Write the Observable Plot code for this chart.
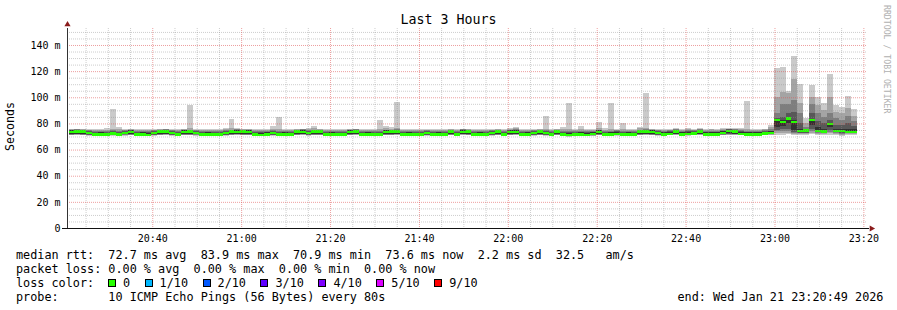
<!DOCTYPE html>
<html>
<head>
<meta charset="utf-8">
<script src="https://cdn.jsdelivr.net/npm/d3@7"></script>
<script src="https://cdn.jsdelivr.net/npm/@observablehq/plot@0.6"></script>
<style>
html, body { margin: 0; padding: 0; background: #fff; }
#wrap { position: relative; width: 897px; height: 310px; overflow: hidden; font-family: "DejaVu Sans Mono", monospace; color: #000; background: #fff; }
#chart { position: absolute; left: 0; top: 0; }
#title { position: absolute; left: 0; top: 11px; width: 897px; text-align: center; font-size: 13.3px; line-height: 18px; }
#ylabel { position: absolute; left: 3px; top: 151px; font-size: 11.6px; line-height: 14px; white-space: pre; transform-origin: 0 0; transform: rotate(-90deg); }
#wm { position: absolute; left: 892px; top: 5px; font-size: 8.2px; line-height: 10px; color: #b0b0b0; white-space: pre; transform-origin: 0 0; transform: rotate(90deg); }
.leg { position: absolute; font-size: 11.8px; line-height: 14px; white-space: pre; }
#lossrow { position: absolute; left: 108px; top: 275.5px; display: flex; align-items: center; font-size: 11.8px; line-height: 14px; white-space: pre; }
.sw { display: inline-block; width: 8px; height: 8px; box-sizing: border-box; border: 1px solid #000; margin-right: 7px; }
.it { margin-right: 14.5px; }
</style>
</head>
<body>
<div id="wrap">
  <div id="chart"></div>
  <div id="title"></div>
  <div id="ylabel"></div>
  <div id="wm"></div>
  <div class="leg" id="row1" style="left:16px; top:247.5px;"></div>
  <div class="leg" id="row2" style="left:16px; top:261.5px;"></div>
  <div class="leg" id="row3" style="left:16px; top:275.5px;"></div>
  <div id="lossrow"></div>
  <div class="leg" id="row4" style="left:16px; top:289.5px;"></div>
  <div class="leg" id="row4r" style="left:677.5px; top:289.5px;"></div>
</div>
<script>
// ---------- data ----------
const chartTitle = "Last 3 Hours";
const yAxisTitle = "Seconds";
const watermark = "RRDTOOL / TOBI OETIKER";
const periodStart = "2026-01-21T20:20:49";
const periodEnd = "2026-01-21T23:20:49";
const firstBinStart = "2026-01-21T20:21:09.500";
const stepSeconds = 80;
const yMax = 153;

const xTickLabels = ["20:40", "21:00", "21:20", "21:40", "22:00", "22:20", "22:40", "23:00", "23:20"];
const yTickValues = [0, 20, 40, 60, 80, 100, 120, 140];
const yTickLabels = ["0", "20 m", "40 m", "60 m", "80 m", "100 m", "120 m", "140 m"];

// median RTT per 80 s bin (ms)
const median = [
  73.6, 73.8, 73.7, 72.6, 71.5, 71.4, 71.6, 72.4, 71.5, 72.8,
  73.6, 71.5, 71.4, 71.3, 72.5, 73.7, 73.8, 72.6, 71.5, 73.6,
  73.7, 72.7, 71.4, 71.5, 71.6, 71.5, 72.6, 73.8, 73.6, 73.7,
  73.5, 71.5, 71.3, 71.5, 72.5, 71.5, 71.6, 71.4, 73.7, 73.6,
  72.6, 73.7, 73.8, 71.5, 71.4, 71.6, 71.5, 73.6, 73.7, 71.6,
  71.4, 71.5, 71.6, 73.5, 73.7, 73.8, 71.5, 71.6, 71.4, 71.5,
  72.6, 71.5, 71.4, 71.5, 73.7, 71.6, 73.6, 73.7, 71.5, 71.4,
  71.5, 72.6, 73.7, 71.4, 73.5, 73.6, 71.5, 71.6, 72.6, 73.7,
  72.5, 71.5, 73.7, 71.5, 70.9, 71.5, 71.6, 71.3, 71.8, 73.6,
  71.5, 71.6, 72.0, 71.5, 71.6, 71.4, 73.8, 73.7, 73.6, 72.6,
  71.5, 72.0, 73.8, 71.6, 71.8, 72.4, 73.9, 71.6, 71.5, 71.6,
  72.9, 74.1, 73.8, 72.0, 71.6, 71.5, 71.6, 72.2, 72.7,
  82.5, 81.0, 83.9, 81.2, 74.3, 74.6, 82.7, 74.4, 73.7, 79.6, 74.3, 74.0, 73.5, 73.6
];

// sorted ping RTTs per bin, p1 = fastest ... p10 = slowest (ms)
const p1 = [
  70.8, 70.9, 70.8, 70.5, 70.2, 70.3, 70.2, 70.5, 70.2, 70.6,
  70.8, 70.2, 70.3, 70.2, 70.5, 70.8, 70.9, 70.5, 70.2, 70.8,
  70.8, 70.6, 70.2, 70.3, 70.2, 70.2, 70.5, 70.8, 70.9, 70.8,
  70.8, 70.2, 70.2, 70.3, 70.5, 70.2, 70.3, 70.2, 70.8, 70.9,
  70.5, 70.8, 70.8, 70.2, 70.3, 70.2, 70.2, 70.8, 70.9, 70.2,
  70.3, 70.2, 70.2, 70.8, 70.8, 70.9, 70.2, 70.3, 70.2, 70.2,
  70.5, 70.2, 70.3, 70.2, 70.8, 70.2, 70.9, 70.8, 70.2, 70.3,
  70.2, 70.5, 70.8, 70.2, 70.8, 70.9, 70.2, 70.3, 70.5, 70.8,
  70.5, 70.2, 70.8, 70.2, 69.9, 70.2, 70.3, 70.2, 70.4, 70.8,
  70.2, 70.3, 70.6, 70.2, 70.3, 70.2, 70.8, 70.9, 70.8, 70.5,
  70.4, 70.8, 71.0, 70.6, 70.7, 70.9, 71.0, 70.6, 70.5, 70.6,
  70.9, 71.1, 71.0, 70.8, 70.5, 70.6, 70.5, 70.8, 70.9,
  71, 71, 72, 71, 71, 71, 72, 71, 71, 71, 71, 70.5, 71, 71
];
const p2 = [
  71.2, 71.3, 71.2, 70.9, 70.5, 70.6, 70.5, 70.9, 70.5, 71.0,
  71.2, 70.5, 70.6, 70.5, 70.9, 71.2, 71.3, 70.9, 70.5, 71.2,
  71.2, 71.0, 70.5, 70.6, 70.5, 70.5, 70.9, 71.2, 71.3, 71.2,
  71.2, 70.5, 70.5, 70.6, 70.9, 70.5, 70.6, 70.5, 71.2, 71.3,
  70.9, 71.2, 71.2, 70.5, 70.6, 70.5, 70.5, 71.2, 71.3, 70.5,
  70.6, 70.5, 70.5, 71.2, 71.2, 71.3, 70.5, 70.6, 70.5, 70.5,
  70.9, 70.5, 70.6, 70.5, 71.2, 70.5, 71.3, 71.2, 70.5, 70.6,
  70.5, 70.9, 71.2, 70.5, 71.2, 71.3, 70.5, 70.6, 70.9, 71.2,
  70.9, 70.5, 71.2, 70.5, 70.3, 70.5, 70.6, 70.5, 70.7, 71.2,
  70.5, 70.6, 71.0, 70.5, 70.6, 70.5, 71.2, 71.3, 71.2, 70.9,
  70.7, 71.1, 71.4, 70.9, 71.0, 71.2, 71.4, 70.9, 70.8, 70.9,
  71.2, 71.5, 71.4, 71.1, 70.8, 70.9, 70.8, 71.1, 71.3,
  73, 72.5, 73, 72, 72, 72, 73, 72, 72, 72.5, 72, 71.5, 72, 72
];
const p3 = [
  71.5, 71.6, 71.5, 71.2, 70.7, 70.8, 70.7, 71.2, 70.7, 71.3,
  71.5, 70.7, 70.8, 70.7, 71.2, 71.5, 71.6, 71.2, 70.7, 71.5,
  71.5, 71.3, 70.7, 70.8, 70.7, 70.7, 71.2, 71.5, 71.6, 71.5,
  71.5, 70.7, 70.7, 70.8, 71.2, 70.7, 70.8, 70.7, 71.5, 71.6,
  71.2, 71.5, 71.5, 70.7, 70.8, 70.7, 70.7, 71.5, 71.6, 70.7,
  70.8, 70.7, 70.7, 71.5, 71.5, 71.6, 70.7, 70.8, 70.7, 70.7,
  71.2, 70.7, 70.8, 70.7, 71.5, 70.7, 71.6, 71.5, 70.7, 70.8,
  70.7, 71.2, 71.5, 70.7, 71.5, 71.6, 70.7, 70.8, 71.2, 71.5,
  71.2, 70.7, 71.5, 70.7, 70.5, 70.7, 70.8, 70.6, 70.9, 71.5,
  70.7, 70.8, 71.3, 70.7, 70.8, 70.7, 71.5, 71.6, 71.5, 71.2,
  70.9, 71.3, 71.7, 71.1, 71.2, 71.4, 71.7, 71.1, 71.0, 71.1,
  71.5, 71.8, 71.7, 71.4, 71.0, 71.1, 71.0, 71.4, 71.6,
  74, 74, 74, 72.5, 72.5, 72.5, 74, 73, 72.5, 73.5, 72.5, 72, 72.5, 72.5
];
const p4 = [
  71.8, 71.9, 71.8, 71.5, 70.9, 71.0, 70.9, 71.5, 70.9, 71.6,
  71.8, 70.9, 71.0, 70.9, 71.5, 71.8, 71.9, 71.5, 70.9, 71.8,
  71.8, 71.6, 70.9, 71.0, 70.9, 70.9, 71.5, 71.8, 71.9, 71.8,
  71.8, 70.9, 70.9, 71.0, 71.5, 70.9, 71.0, 70.9, 71.8, 71.9,
  71.5, 71.8, 71.8, 70.9, 71.0, 70.9, 70.9, 71.8, 71.9, 70.9,
  71.0, 70.9, 70.9, 71.8, 71.8, 71.9, 70.9, 71.0, 70.9, 70.9,
  71.5, 70.9, 71.0, 70.9, 71.8, 70.9, 71.9, 71.8, 70.9, 71.0,
  70.9, 71.5, 71.8, 70.9, 71.8, 71.9, 70.9, 71.0, 71.5, 71.8,
  71.5, 70.9, 71.8, 70.9, 70.7, 70.9, 71.0, 70.8, 71.1, 71.8,
  70.9, 71.0, 71.6, 70.9, 71.0, 70.9, 71.8, 71.9, 71.8, 71.5,
  71.1, 71.5, 72.0, 71.3, 71.4, 71.6, 72.0, 71.3, 71.2, 71.3,
  71.8, 72.1, 72.0, 71.6, 71.2, 71.3, 71.2, 71.6, 71.9,
  75, 76, 76, 73.5, 73, 73, 76, 74, 73.5, 75, 73.5, 73, 73, 73
];
const p5 = [
  72.0, 72.1, 72.0, 71.7, 71.0, 71.1, 71.0, 71.7, 71.0, 71.8,
  72.0, 71.0, 71.1, 71.0, 71.7, 72.0, 72.1, 71.7, 71.0, 72.0,
  72.0, 71.8, 71.0, 71.1, 71.0, 71.0, 71.7, 72.0, 72.1, 72.0,
  72.0, 71.0, 71.0, 71.1, 71.7, 71.0, 71.1, 71.0, 72.0, 72.1,
  71.7, 72.0, 72.0, 71.0, 71.1, 71.0, 71.0, 72.0, 72.1, 71.0,
  71.1, 71.0, 71.0, 72.0, 72.0, 72.1, 71.0, 71.1, 71.0, 71.0,
  71.7, 71.0, 71.1, 71.0, 72.0, 71.0, 72.1, 72.0, 71.0, 71.1,
  71.0, 71.7, 72.0, 71.0, 72.0, 72.1, 71.0, 71.1, 71.7, 72.0,
  71.7, 71.0, 72.0, 71.0, 70.8, 71.0, 71.1, 70.9, 71.2, 72.0,
  71.0, 71.1, 71.8, 71.0, 71.1, 71.0, 72.0, 72.1, 72.0, 71.7,
  71.2, 71.7, 72.2, 71.4, 71.5, 71.8, 72.2, 71.4, 71.3, 71.4,
  72.0, 72.3, 72.2, 71.8, 71.3, 71.4, 71.3, 71.8, 72.1,
  77, 78, 80, 75, 74, 74, 79, 75, 74.5, 77, 74.5, 74, 74, 74
];
const p6 = [
  74.6, 74.7, 74.6, 73.6, 73.0, 73.1, 73.0, 73.6, 73.0, 73.7,
  74.6, 73.0, 73.1, 73.0, 73.6, 74.6, 74.7, 73.6, 73.0, 74.6,
  74.6, 73.7, 73.0, 73.1, 73.0, 73.0, 73.6, 74.6, 74.7, 74.6,
  74.6, 73.0, 73.0, 73.1, 73.6, 73.0, 73.1, 73.0, 74.6, 74.7,
  73.6, 74.6, 74.6, 73.0, 73.1, 73.0, 73.0, 74.6, 74.7, 73.0,
  73.1, 73.0, 73.0, 74.6, 74.6, 74.7, 73.0, 73.1, 73.0, 73.0,
  73.6, 73.0, 73.1, 73.0, 74.6, 73.0, 74.7, 74.6, 73.0, 73.1,
  73.0, 73.6, 74.6, 73.0, 74.6, 74.7, 73.0, 73.1, 73.6, 74.6,
  73.6, 73.0, 74.6, 73.0, 72.8, 73.0, 73.1, 72.9, 73.2, 74.6,
  73.0, 73.1, 73.7, 73.0, 73.1, 73.0, 74.6, 74.7, 74.6, 73.6,
  73.1, 73.6, 74.8, 73.2, 73.3, 73.7, 74.9, 73.2, 73.1, 73.2,
  73.9, 75.0, 74.8, 73.7, 73.2, 73.2, 73.1, 73.7, 73.9,
  83, 82.5, 85, 82.6, 76, 75, 83, 77, 76, 80, 76, 75.5, 76, 75.5
];
const p7 = [
  75.0, 75.1, 75.0, 74.2, 73.6, 73.7, 73.6, 74.2, 73.6, 74.3,
  75.0, 73.6, 73.7, 73.6, 74.2, 75.0, 75.1, 74.2, 73.6, 75.0,
  75.0, 74.3, 73.6, 73.7, 73.6, 73.6, 74.2, 75.0, 75.1, 75.0,
  75.0, 73.6, 73.6, 73.7, 74.2, 73.6, 73.7, 73.6, 75.0, 75.1,
  74.2, 75.0, 75.0, 73.6, 73.7, 73.6, 73.6, 75.0, 75.1, 73.6,
  73.7, 73.6, 73.6, 75.0, 75.0, 75.1, 73.6, 73.7, 73.6, 73.6,
  74.2, 73.6, 73.7, 73.6, 75.0, 73.6, 75.1, 75.0, 73.6, 73.7,
  73.6, 74.2, 75.0, 73.6, 75.0, 75.1, 73.6, 73.7, 74.2, 75.0,
  74.2, 73.6, 75.0, 73.6, 73.4, 73.6, 73.7, 73.5, 73.8, 75.0,
  73.6, 73.7, 74.3, 73.6, 73.7, 73.6, 75.0, 75.1, 75.0, 74.2,
  73.7, 74.2, 75.2, 73.8, 74.0, 74.3, 75.3, 73.8, 73.8, 73.8,
  74.5, 75.4, 75.2, 74.3, 73.8, 73.8, 73.7, 74.3, 74.5,
  84, 85, 88, 89, 80, 75.5, 88, 82, 80, 83, 79, 79, 80, 78
];
const p8 = [
  75.3, 75.4, 75.3, 74.7, 74.1, 74.2, 74.1, 74.7, 74.1, 74.8,
  75.3, 74.1, 74.2, 74.1, 74.7, 75.3, 75.4, 74.7, 74.1, 75.3,
  75.3, 74.8, 74.1, 74.2, 74.1, 74.1, 74.7, 75.3, 75.4, 75.3,
  75.3, 74.1, 74.1, 74.2, 74.7, 74.1, 74.2, 74.1, 75.3, 75.4,
  74.7, 75.3, 75.3, 74.1, 74.2, 74.1, 74.1, 75.3, 75.4, 74.1,
  74.2, 74.1, 74.1, 75.3, 75.3, 75.4, 74.1, 74.2, 74.1, 74.1,
  74.7, 74.1, 74.2, 74.1, 75.3, 74.1, 75.4, 75.3, 74.1, 74.2,
  74.1, 74.7, 75.3, 74.1, 75.3, 75.4, 74.1, 74.2, 74.7, 75.3,
  74.7, 74.1, 75.3, 74.1, 73.9, 74.1, 74.2, 74.0, 74.3, 75.3,
  74.1, 74.2, 74.8, 74.1, 74.2, 74.1, 75.3, 75.4, 75.3, 74.7,
  74.2, 74.7, 75.5, 74.4, 74.6, 74.8, 75.6, 74.4, 74.4, 74.4,
  75.0, 75.7, 75.5, 74.9, 74.4, 74.4, 74.3, 74.9, 75.5,
  88, 95, 95, 98, 88, 77, 95, 88, 85, 88, 84, 83, 86, 82
];
const p9 = [
  75.6, 75.7, 75.6, 75.2, 74.6, 75.0, 75.2, 76.0, 75.4, 75.3,
  75.6, 75.2, 74.7, 74.6, 75.2, 75.6, 75.7, 75.2, 74.6, 75.7,
  76.4, 75.3, 74.6, 74.7, 74.6, 74.6, 75.4, 76.4, 75.8, 75.6,
  75.6, 74.6, 74.6, 74.7, 76.0, 75.8, 74.7, 74.6, 75.6, 75.7,
  75.4, 76.2, 75.6, 74.6, 74.7, 74.6, 74.6, 75.6, 75.7, 74.6,
  74.7, 74.6, 75.8, 76.2, 76.0, 76.5, 74.9, 74.7, 74.6, 74.9,
  75.2, 74.9, 74.7, 74.6, 75.6, 74.6, 75.7, 75.6, 74.6, 74.7,
  74.6, 75.2, 75.6, 74.6, 75.8, 76.2, 74.6, 74.7, 75.2, 75.6,
  76.0, 74.6, 75.6, 75.6, 75.5, 74.6, 75.8, 75.0, 74.8, 76.5,
  75.2, 75.6, 75.3, 76.0, 74.7, 74.6, 76.2, 76.8, 75.6, 75.2,
  74.7, 75.2, 75.9, 75.0, 75.8, 75.3, 76.0, 75.2, 75.4, 75.3,
  76.0, 76.0, 75.9, 76.0, 76.0, 74.9, 74.8, 75.4, 77.0,
  100, 104, 103, 114, 96, 80, 100, 94, 90, 100, 89, 88, 92, 86
];
const p10 = [
  76.0, 76.1, 76.0, 75.8, 75.4, 75.8, 76.3, 91.0, 77.3, 75.8,
  76.0, 76.0, 75.5, 75.4, 75.8, 76.0, 76.1, 75.8, 75.4, 75.8,
  94.4, 75.9, 75.4, 75.5, 75.4, 75.4, 76.5, 83.4, 76.2, 76.0,
  76.0, 75.4, 75.4, 75.5, 78.3, 85.2, 75.5, 75.4, 76.0, 76.1,
  76.2, 78.0, 76.0, 75.4, 75.5, 75.4, 75.4, 76.0, 76.1, 75.4,
  75.5, 75.4, 82.6, 77.7, 77.3, 96.4, 75.8, 75.5, 75.4, 75.8,
  75.8, 75.8, 75.5, 75.4, 76.0, 75.4, 76.1, 76.0, 75.4, 75.5,
  75.4, 75.8, 76.0, 75.4, 76.2, 77.5, 75.4, 75.5, 75.8, 76.0,
  85.7, 75.4, 76.0, 77.3, 95.9, 75.4, 78.3, 76.0, 75.5, 81.3,
  76.3, 95.9, 75.9, 80.1, 75.5, 75.4, 77.5, 103.5, 75.8, 75.8,
  75.4, 75.8, 76.2, 75.8, 76.3, 75.9, 76.3, 75.8, 76.1, 75.8,
  76.4, 76.3, 76.2, 76.7, 97.2, 75.6, 75.5, 76.0, 78.9,
  122.1, 122.9, 104.8, 131.6, 110.4, 84, 109.4, 100.2, 95.4, 117.8, 94.1, 92.8, 101.2, 90.8
];

const medianStats = ["72.7 ms avg", "83.9 ms max", "70.9 ms min", "73.6 ms now", "2.2 ms sd", "32.5   am/s"];
const lossStats = ["0.00 % avg", "0.00 % max", "0.00 % min", "0.00 % now"];
const lossLabels = ["0", "1/10", "2/10", "3/10", "4/10", "5/10", "9/10"];
const lossColors = ["#26ff00", "#00b8ff", "#0059ff", "#5e00ff", "#7e00ff", "#dd00ff", "#ff0000"];
const probeText = "10 ICMP Echo Pings (56 Bytes) every 80s";
const endText = "end: Wed Jan 21 23:20:49 2026";

// ---------- build ----------
const start = new Date(periodStart);
const end = new Date(periodEnd);
const day = periodStart.slice(0, 10);
const xTicks = xTickLabels.map(s => new Date(day + "T" + s + ":00"));
const pcols = [p1, p2, p3, p4, p5, p6, p7, p8, p9, p10];
const t0 = new Date(firstBinStart).getTime();
const bins = median.map((m, i) => ({
  t1: new Date(t0 + i * stepSeconds * 1000),
  t2: new Date(t0 + (i + 1) * stepSeconds * 1000),
  median: m,
  p: pcols.map(c => c[i])
}));

const shades = ["#cacaca", "#a4a4a4", "#7e7e7e", "#585858", "#323232"];
const medianHalf = 0.9;

const minorY = d3.range(5, yMax, 5).filter(v => v % 20 !== 0);
const majorY = d3.range(20, yMax - 10, 20);
const allX = d3.timeMinute.every(5).range(start, end);
const majorX = allX.filter(d => d.getMinutes() % 20 === 0);
const minorX = allX.filter(d => d.getMinutes() % 20 !== 0);

const smoke = shades.map((fill, b) => Plot.rect(bins, {
  x1: "t1", x2: "t2",
  y1: d => d.p[b], y2: d => d.p[9 - b],
  fill, shapeRendering: "crispEdges"
}));

const plot = Plot.plot({
  width: 897,
  height: 245,
  marginLeft: 67,
  marginRight: 30,
  marginTop: 28,
  marginBottom: 17,
  style: { fontFamily: "DejaVu Sans Mono", fontSize: "10px", color: "#000", background: "transparent", overflow: "visible" },
  x: { type: "time", domain: [start, end] },
  y: { domain: [0, yMax] },
  marks: [
    ...smoke,
    Plot.rect(bins, {
      x1: "t1", x2: "t2",
      y1: d => d.median - medianHalf, y2: d => d.median + medianHalf,
      fill: "#26ff00", shapeRendering: "crispEdges"
    }),
    Plot.ruleY(minorY, { stroke: "#8f8f8f", strokeOpacity: 0.45, strokeDasharray: "1,1" }),
    Plot.ruleX(minorX, { stroke: "#8f8f8f", strokeOpacity: 0.45, strokeDasharray: "1,1" }),
    Plot.ruleY(majorY, { stroke: "#de5050", strokeOpacity: 0.55, strokeDasharray: "1,1" }),
    Plot.ruleX(majorX, { stroke: "#de5050", strokeOpacity: 0.55, strokeDasharray: "1,1" }),
    Plot.ruleX([start], { stroke: "#333" }),
    Plot.ruleY([0], { stroke: "#111", insetLeft: -5, insetRight: -2 }),
    Plot.dot([start], { x: d => d, y: () => yMax, dy: -4, symbol: "triangle", r: 2.3, fill: "#8b1c1c", stroke: "none" }),
    Plot.dot([end], { x: d => d, y: () => 0, dx: 4, symbol: "triangle", r: 2.3, rotate: 90, fill: "#8b1c1c", stroke: "none" }),
    Plot.axisY({ ticks: yTickValues, tickFormat: (d, i) => yTickLabels[yTickValues.indexOf(d)], tickSize: 0, tickPadding: 7, label: null, fontSize: 10 }),
    Plot.axisX({ ticks: xTicks, tickFormat: (d, i) => xTickLabels[i], tickSize: 0, tickPadding: 6, label: null, fontSize: 10 })
  ]
});
document.getElementById("chart").appendChild(plot);

// ---------- texts around the svg ----------
document.getElementById("title").textContent = chartTitle;
document.getElementById("ylabel").textContent = yAxisTitle;
document.getElementById("wm").textContent = watermark;
document.getElementById("row1").textContent = "median rtt:  " + medianStats.join("  ");
document.getElementById("row2").textContent = "packet loss: " + lossStats.join("  ");
document.getElementById("row3").textContent = "loss color:";
document.getElementById("row4").textContent = "probe:       " + probeText;
document.getElementById("row4r").textContent = endText;
const lossRow = document.getElementById("lossrow");
lossLabels.forEach((lab, i) => {
  const sw = document.createElement("span");
  sw.className = "sw";
  sw.style.background = lossColors[i];
  const tx = document.createElement("span");
  tx.className = "it";
  tx.textContent = lab;
  lossRow.appendChild(sw);
  lossRow.appendChild(tx);
});
</script>
</body>
</html>
